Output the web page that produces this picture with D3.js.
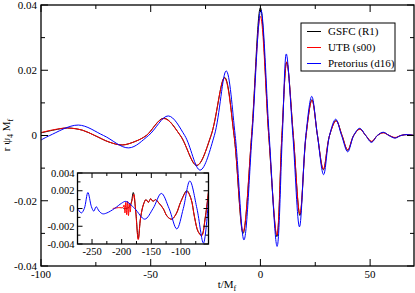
<!DOCTYPE html>
<html><head><meta charset="utf-8">
<script src="https://cdn.jsdelivr.net/npm/d3@7"></script>
<style>
body{margin:0;background:#fff;}
text{font-family:"Liberation Serif","Times New Roman",serif;fill:#000;}
</style></head>
<body><svg id="c" width="415" height="293"></svg>
<script>
// ---------- DATA ----------
// main panel: GSFC (R1)
const gsfcT = [-100,-94,-88,-81,-75.5,-69,-63,-57,-52,-44,-36.5,-29,-22.5,-16.3,-12,-7.9,-4,0,3.8,7.5,9.8,12,15,18,20.8,23.5,26,28.7,31.5,34.5,37.2,39.8,42.5,45.3,48,50.7,53.3,56,58.7,61.4,64,67,70];
const gsfcV = [0.0008,0.0017,0.0023,0.0016,0.0,-0.0020,-0.0029,-0.0018,0.0,0.0053,0.0,-0.0092,0.0,0.0178,0.0,-0.0300,0.0,0.0392,0.0,-0.0310,0.0,0.0225,0.0,-0.0245,0.0,0.0110,0.0,-0.0105,0.0,0.0046,0.0,-0.0045,0.0,0.0020,0.0,-0.0019,0.0,0.0009,0.0,-0.0007,0.0,0.0003,0.0];
// main panel: UTB (s00)
const utbT = [-100,-94,-88,-81,-75.5,-69,-63,-57,-52,-44,-36.5,-29,-22.5,-16.4,-12,-7.9,-4,0,3.8,7.5,9.8,12,15,18,20.8,23.5,26,28.7,31.5,34.5,37.2,39.8,42.5,45.3,48,50.7,53.3,56,58.7,61.4,64,67,70];
const utbV = [0.0009,0.0018,0.0023,0.0016,0.0,-0.0020,-0.0029,-0.0018,0.0,0.0052,0.0,-0.0091,0.0,0.0176,0.0,-0.0295,0.0,0.0365,0.0,-0.0305,0.0,0.0226,0.0,-0.0240,0.0,0.0108,0.0,-0.0103,0.0,0.0045,0.0,-0.0044,0.0,0.0019,0.0,-0.0018,0.0,0.0008,0.0,-0.0006,0.0,0.0003,0.0];
// main panel: Pretorius (d16)
const pretT = [-100,-96,-83,-71.5,-60,-51,-42,-34.5,-27.5,-21,-15.6,-11.5,-7.5,-3.8,0.2,4,7.6,10,11.8,14.8,17.8,20.7,23.4,26,28.8,31.5,34.3,37,39.8,42.5,45.2,48,50.6,53.3,56,58.6,61.3,64,67,70];
const pretV = [-0.0014,0.0,0.0032,0.0,-0.0038,0.0,0.0060,0.0,-0.0106,0.0,0.0198,0.0,-0.0320,0.0,0.0385,0.0,-0.0340,0.0,0.0250,0.0,-0.0280,0.0,0.0120,0.0,-0.0120,0.0,0.0050,0.0,-0.0050,0.0,0.0022,0.0,-0.0021,0.0,0.0010,0.0,-0.0008,0.0,0.0003,0.0];

// inset panel
const inGsfcT = [-197,-188,-184,-180.4,-176,-172,-168,-163,-159,-155,-151,-147,-143,-137,-130,-123,-115.6,-108,-100,-90,-83,-77,-71,-65,-59,-53.5];
const inGsfcV = [0.0,0.0001,0.0006,0.0018,-0.0005,-0.0034,-0.0010,0.0005,0.0010,0.0007,0.0011,0.0008,0.0010,0.0006,0.0,-0.0009,-0.0012,-0.0006,0.0008,0.0020,0.0011,-0.0010,-0.0026,-0.0030,-0.0010,0.0018];
const inUtbT = [-215,-205,-198,-196,-194.5,-193,-191.5,-190,-188.5,-187,-185.5,-184,-182,-179.5,-176,-172,-168,-163,-159,-155,-151,-147,-143,-137,-130,-123,-115.6,-108,-100,-90,-83,-77,-71,-65,-59,-53.5];
const inUtbV = [0.0,0.0001,0.0001,0.0004,-0.0005,0.0007,-0.0007,0.0008,-0.0008,0.0006,-0.0004,0.0006,0.0010,0.0016,-0.0006,-0.0035,-0.0010,0.0005,0.0010,0.0007,0.0011,0.0008,0.0010,0.0006,0.0,-0.0009,-0.0012,-0.0006,0.0008,0.0019,0.0011,-0.0010,-0.0026,-0.0031,-0.0011,0.0020];
const inPretT = [-274.5,-268,-263,-257,-251,-247,-243,-238,-232,-225,-212,-200,-193,-178,-161,-147,-133,-120,-107,-96,-85,-73,-62,-53.5];
const inPretV = [0.0,-0.0005,0.0,0.0018,0.0002,-0.0003,0.0002,-0.0003,-0.0006,-0.0005,0.0,0.0006,0.0008,0.0,-0.0012,0.0,0.0017,0.0,-0.0023,0.0,0.0031,0.0,-0.0039,0.0010];

// axis ticks
const mainXTicks = [-100,-50,0,50];
const mainXMinor = [-75,-25,25];
const mainYTicks = [-0.04,-0.02,0,0.02,0.04];
const mainYMinor = [-0.03,-0.01,0.01,0.03];
const inXTicks = [-250,-200,-150,-100];
const inXMinor = [-275,-225,-175,-125,-75];
const inYTicks = [-0.004,-0.002,0,0.002,0.004];
const inYMinor = [-0.003,-0.001,0.001,0.003];

const seriesNames = ["GSFC (R1)","UTB (s00)","Pretorius (d16)"];
const seriesColors = ["#000000","#ff0000","#0000ff"];

// ---------- DRAW ----------
const svg = d3.select("#c");
function fmt(v){ if(v===0) return "0"; return (v<0?"-":"")+String(Math.abs(+v.toPrecision(3))).replace(/^0\./,"0."); }

function panel(g, x, y, xT, xM, yT, yM, majLen, minLen, fs, xLabOff, yLabOff){
  const [x0,x1]=x.range(), [y1,y0]=y.range();
  g.append("rect").attr("x",x0).attr("y",y0).attr("width",x1-x0).attr("height",y1-y0)
    .attr("fill","#fff").attr("stroke","none");
  return function frame(){
    const tk = g.append("g").attr("stroke","#000").attr("stroke-width",1);
    xT.forEach(v=>{const px=x(v); tk.append("line").attr("x1",px).attr("x2",px).attr("y1",y1).attr("y2",y1-majLen);
      tk.append("line").attr("x1",px).attr("x2",px).attr("y1",y0).attr("y2",y0+majLen);});
    xM.forEach(v=>{const px=x(v); if(px<x0||px>x1) return; tk.append("line").attr("x1",px).attr("x2",px).attr("y1",y1).attr("y2",y1-minLen);
      tk.append("line").attr("x1",px).attr("x2",px).attr("y1",y0).attr("y2",y0+minLen);});
    yT.forEach(v=>{const py=y(v); tk.append("line").attr("y1",py).attr("y2",py).attr("x1",x0).attr("x2",x0+majLen);
      tk.append("line").attr("y1",py).attr("y2",py).attr("x1",x1).attr("x2",x1-majLen);});
    yM.forEach(v=>{const py=y(v); tk.append("line").attr("y1",py).attr("y2",py).attr("x1",x0).attr("x2",x0+minLen);
      tk.append("line").attr("y1",py).attr("y2",py).attr("x1",x1).attr("x2",x1-minLen);});
    g.append("rect").attr("x",x0).attr("y",y0).attr("width",x1-x0).attr("height",y1-y0)
      .attr("fill","none").attr("stroke","#000").attr("stroke-width",1.3);
    xT.forEach(v=>g.append("text").attr("x",x(v)).attr("y",y1+xLabOff).attr("text-anchor","middle")
      .attr("font-size",fs).text(fmt(v)));
    yT.forEach(v=>g.append("text").attr("x",x0-yLabOff).attr("y",y(v)).attr("dy","0.35em").attr("text-anchor","end")
      .attr("font-size",fs).text(fmt(v)));
  };
}

// main
const X = d3.scaleLinear().domain([-100,70]).range([41,414]);
const Y = d3.scaleLinear().domain([-0.04,0.04]).range([266,5]);
const gm = svg.append("g");
const mainFrame = panel(gm, X, Y, mainXTicks, mainXMinor, mainYTicks, mainYMinor, 7, 4, 11, 12, 4);
const clipM = svg.append("clipPath").attr("id","cm").append("rect").attr("x",41).attr("y",5).attr("width",373).attr("height",261);
function drawLines(g, xs, ys, T, V, clip){
  const line = d3.line().x(d=>xs(d[0])).y(d=>ys(d[1])).curve(d3.curveCatmullRom.alpha(0.5));
  T.forEach((tArr,i)=>{
    const pts = tArr.map((t,j)=>[t,V[i][j]]);
    g.append("path").attr("d",line(pts)).attr("fill","none").attr("stroke",seriesColors[i])
      .attr("stroke-width",1).attr("clip-path","url(#"+clip+")");
  });
}
drawLines(gm, X, Y, [gsfcT,utbT,pretT],[gsfcV,utbV,pretV],"cm");
mainFrame();
// axis labels
gm.append("text").attr("x",227).attr("y",288).attr("text-anchor","middle").attr("font-size",11)
  .html('t/M<tspan dy="3" font-size="8">f</tspan>');
gm.append("text").attr("transform","translate(10,135) rotate(-90)").attr("text-anchor","middle").attr("font-size",11)
  .html('r ψ<tspan dy="3" font-size="8">4</tspan><tspan dy="-3"> M</tspan><tspan dy="3" font-size="8">f</tspan>');

// legend
const lg = gm.append("g");
lg.append("rect").attr("x",301).attr("y",23).attr("width",94).attr("height",48).attr("fill","#fff").attr("stroke","#000").attr("stroke-width",1);
seriesNames.forEach((n,i)=>{
  const yy = 31.5 + i*16;
  lg.append("line").attr("x1",307).attr("x2",321).attr("y1",yy).attr("y2",yy).attr("stroke",seriesColors[i]).attr("stroke-width",1);
  lg.append("text").attr("x",328).attr("y",yy).attr("dy","0.35em").attr("font-size",11).text(n);
});

// inset
const XI = d3.scaleLinear().domain([-274.5,-53.5]).range([77.5,208.5]);
const YI = d3.scaleLinear().domain([-0.004,0.004]).range([244,173]);
const gi = svg.append("g");
const inFrame = panel(gi, XI, YI, inXTicks, inXMinor, inYTicks, inYMinor, 5, 3, 10.5, 11, 3);
svg.append("clipPath").attr("id","ci").append("rect").attr("x",77.5).attr("y",173).attr("width",131).attr("height",71);
drawLines(gi, XI, YI, [inGsfcT,inUtbT,inPretT],[inGsfcV,inUtbV,inPretV],"ci");
inFrame();
</script></body></html>
